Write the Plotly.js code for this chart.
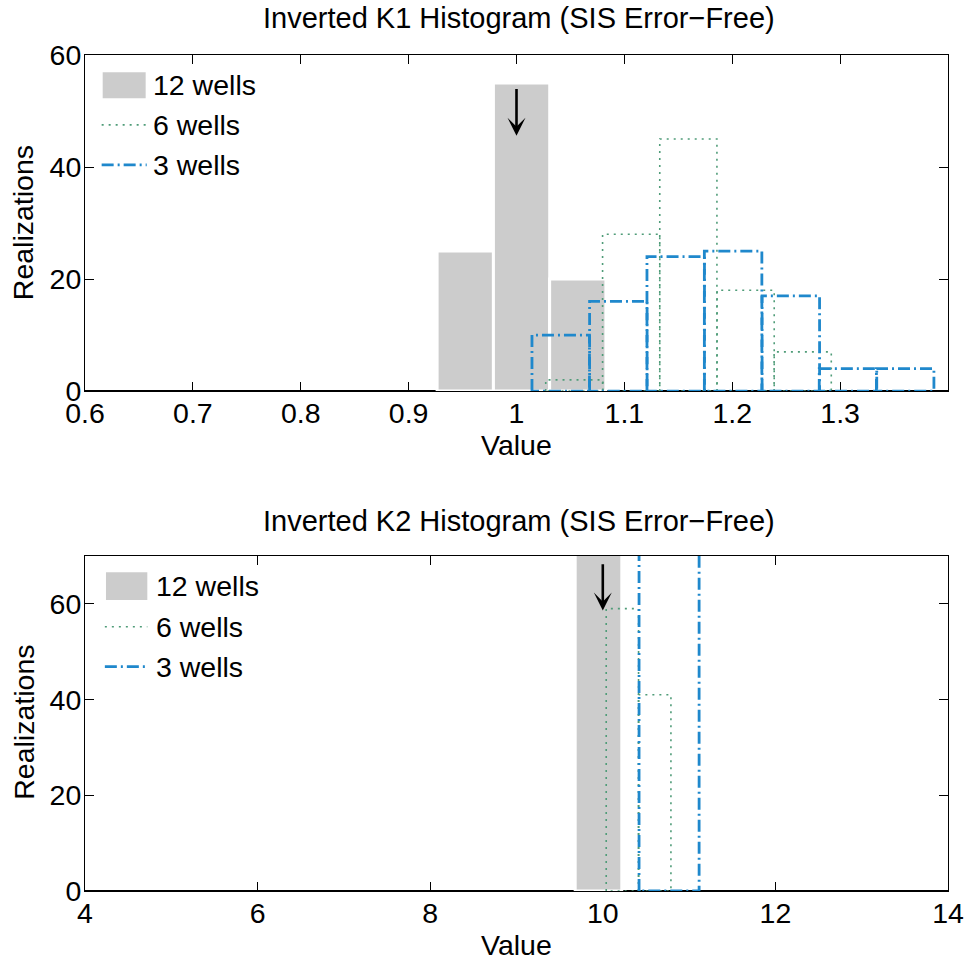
<!DOCTYPE html>
<html><head><meta charset="utf-8">
<script src="https://cdn.plot.ly/plotly-3.0.1.min.js"></script>
<style>html,body{margin:0;padding:0;background:#fff}</style>
</head><body>
<div id="chart" style="width:967px;height:960px"></div>
<script>
// ---- K1 histogram data ----
const k1Centers12 = [0.9525, 1.0047, 1.0568];
const k1Counts12  = [25, 55, 20];
const k1Width12   = 0.0522;
const k1Centers6  = [1.0536, 1.1063, 1.1593, 1.2124, 1.2653];
const k1Counts6   = [2, 28, 45, 18, 7];
const k1Width6    = 0.053;
const k1Centers3  = [1.0410, 1.0944, 1.1476, 1.2008, 1.2543, 1.3073, 1.3603];
const k1Counts3   = [10, 16, 24, 25, 17, 4, 4];
const k1Width3    = 0.0533;
const k1TrueValue = 1.0;

// ---- K2 histogram data ----
const k2Centers12 = [9.95];
const k2Counts12  = [100];
const k2Width12   = 0.54;
const k2Centers6  = [10.227, 10.602];
const k2Counts6   = [59, 41];
const k2Width6    = 0.375;
const k2Centers3  = [10.768];
const k2Counts3   = [100];
const k2Width3    = 0.696;
const k2TrueValue = 10;

// ---- labels ----
const seriesNames = ['12 wells', '6 wells', '3 wells'];
const plotTitles  = ['Inverted K1 Histogram (SIS Error\u2212Free)', 'Inverted K2 Histogram (SIS Error\u2212Free)'];
const xTitle = 'Value';
const yTitle = 'Realizations';
const k1TickVals = [0.6, 0.7, 0.8, 0.9, 1, 1.1, 1.2, 1.3];
const k1TickText = ['0.6', '0.7', '0.8', '0.9', '1', '1.1', '1.2', '1.3'];
const k2TickVals = [4, 6, 8, 10, 12, 14];
const k2TickText = ['4', '6', '8', '10', '12', '14'];
const yTickVals  = [0, 20, 40, 60];

// ---- styles ----
const FONT = 'Liberation Sans, Arial, Helvetica, sans-serif';
const FS = 28.5;
const GRAY = '#cccccc';
const GREEN = '#4f9c78';
const BLUE = '#1f88cc';
const DOT = '2px,5px';
const DASHDOT = '12px,4px,2px,4px';

function outline(centers, counts, width) {
  const xs = [], ys = [];
  centers.forEach((c, i) => {
    const l = c - width / 2, r = c + width / 2, h = counts[i];
    xs.push(l, l, r, r, l, null);
    ys.push(0, h, h, 0, 0, null);
  });
  return {x: xs, y: ys};
}

const o6a = outline(k1Centers6, k1Counts6, k1Width6);
const o3a = outline(k1Centers3, k1Counts3, k1Width3);
const o6b = outline(k2Centers6, k2Counts6, k2Width6);
const o3b = outline(k2Centers3, k2Counts3, k2Width3);

const traces = [
  {type: 'bar', x: k1Centers12, y: k1Counts12, width: k1Centers12.map(() => k1Width12),
   marker: {color: GRAY, line: {color: '#ffffff', width: 3}}, name: seriesNames[0],
   xaxis: 'x', yaxis: 'y', showlegend: false},
  {type: 'scatter', mode: 'lines', x: o6a.x, y: o6a.y, name: seriesNames[1],
   line: {color: GREEN, width: 1.6, dash: DOT}, xaxis: 'x', yaxis: 'y', showlegend: false},
  {type: 'scatter', mode: 'lines', x: o3a.x, y: o3a.y, name: seriesNames[2],
   line: {color: BLUE, width: 2.8, dash: DASHDOT}, xaxis: 'x', yaxis: 'y', showlegend: false},
  {type: 'bar', x: k2Centers12, y: k2Counts12, width: k2Centers12.map(() => k2Width12),
   marker: {color: GRAY, line: {color: '#ffffff', width: 3}}, name: seriesNames[0],
   xaxis: 'x2', yaxis: 'y2', showlegend: false},
  {type: 'scatter', mode: 'lines', x: o6b.x, y: o6b.y, name: seriesNames[1],
   line: {color: GREEN, width: 1.6, dash: DOT}, xaxis: 'x2', yaxis: 'y2', showlegend: false},
  {type: 'scatter', mode: 'lines', x: o3b.x, y: o3b.y, name: seriesNames[2],
   line: {color: BLUE, width: 2.8, dash: DASHDOT}, xaxis: 'x2', yaxis: 'y2', showlegend: false}
];

const axCommon = {
  showgrid: false, zeroline: false, showline: true, linecolor: '#000', linewidth: 1,
  ticks: 'inside', ticklen: 9, tickwidth: 1, tickcolor: '#000', mirror: 'ticks',
  tickfont: {family: FONT, size: FS, color: '#000'}, fixedrange: true
};

function legendItems(xr, yr, rows) {
  const shapes = [], anns = [];
  rows.forEach(r => {
    if (r.kind === 'rect') {
      shapes.push({type: 'rect', xref: xr, yref: yr, x0: r.x0, x1: r.x1, y0: r.y - r.h / 2, y1: r.y + r.h / 2,
        fillcolor: GRAY, line: {width: 0}});
    } else {
      shapes.push({type: 'line', xref: xr, yref: yr, x0: r.x0, x1: r.x1, y0: r.y, y1: r.y,
        line: {color: r.color, width: r.width, dash: r.dash}});
    }
    anns.push({xref: xr, yref: yr, x: r.tx, y: r.y, text: r.text, showarrow: false,
      xanchor: 'left', yanchor: 'middle', font: {family: FONT, size: FS, color: '#000'}});
  });
  return {shapes, anns};
}

const leg1 = legendItems('x domain', 'y domain', [
  {kind: 'rect', x0: 0.0205, x1: 0.0703, y: 0.910, h: 0.077, tx: 0.077, text: seriesNames[0]},
  {kind: 'line', x0: 0.0193, x1: 0.0715, y: 0.792, color: GREEN, width: 1.6, dash: DOT, tx: 0.077, text: seriesNames[1]},
  {kind: 'line', x0: 0.0193, x1: 0.0715, y: 0.673, color: BLUE, width: 2.8, dash: DASHDOT, tx: 0.077, text: seriesNames[2]}
]);
const leg2 = legendItems('x2 domain', 'y2 domain', [
  {kind: 'rect', x0: 0.0243, x1: 0.0722, y: 0.910, h: 0.083, tx: 0.080, text: seriesNames[0]},
  {kind: 'line', x0: 0.023, x1: 0.0722, y: 0.789, color: GREEN, width: 1.6, dash: DOT, tx: 0.080, text: seriesNames[1]},
  {kind: 'line', x0: 0.023, x1: 0.0722, y: 0.670, color: BLUE, width: 2.8, dash: DASHDOT, tx: 0.080, text: seriesNames[2]}
]);

const baseLines = [
  {type: 'line', xref: 'x domain', yref: 'y', x0: 0, x1: 1, y0: 0, y1: 0, line: {color: '#000', width: 2}, layer: 'below'},
  {type: 'line', xref: 'x2 domain', yref: 'y2', x0: 0, x1: 1, y0: 0, y1: 0, line: {color: '#000', width: 2}, layer: 'below'}
];

const textFont = {family: FONT, size: FS, color: '#000'};
const annotations = [
  {xref: 'paper', yref: 'paper', x: 0.503, y: 1.044, text: plotTitles[0], showarrow: false,
   xanchor: 'center', yanchor: 'middle', font: {family: FONT, size: 29, color: '#000'}},
  {xref: 'paper', yref: 'paper', x: 0.503, y: 0.4426, text: plotTitles[1], showarrow: false,
   xanchor: 'center', yanchor: 'middle', font: {family: FONT, size: 29, color: '#000'}},
  {xref: 'paper', yref: 'paper', x: 0.5, y: 0.5335, text: xTitle, showarrow: false,
   xanchor: 'center', yanchor: 'middle', font: textFont},
  {xref: 'paper', yref: 'paper', x: 0.5, y: -0.0646, text: xTitle, showarrow: false,
   xanchor: 'center', yanchor: 'middle', font: textFont},
  {xref: 'paper', yref: 'paper', x: -0.071, y: 0.7997, text: yTitle, showarrow: false, textangle: -90,
   xanchor: 'center', yanchor: 'middle', font: textFont},
  {xref: 'paper', yref: 'paper', x: -0.071, y: 0.2021, text: yTitle, showarrow: false, textangle: -90,
   xanchor: 'center', yanchor: 'middle', font: textFont},
  {xref: 'x', yref: 'y', axref: 'x', ayref: 'y', x: k1TrueValue, y: 45.6, ax: k1TrueValue, ay: 54.2,
   showarrow: true, arrowhead: 3, arrowsize: 1.15, arrowwidth: 2.6, arrowcolor: '#000', text: ''},
  {xref: 'x2', yref: 'y2', axref: 'x2', ayref: 'y2', x: k2TrueValue, y: 58.6, ax: k2TrueValue, ay: 68.6,
   showarrow: true, arrowhead: 3, arrowsize: 1.15, arrowwidth: 2.6, arrowcolor: '#000', text: ''}
].concat(leg1.anns, leg2.anns);

const layout = {
  width: 967, height: 960,
  margin: {l: 85, r: 19, t: 55, b: 69},
  paper_bgcolor: '#fff', plot_bgcolor: '#fff',
  showlegend: false, barmode: 'overlay', bargap: 0,
  font: {family: FONT, size: FS, color: '#000'},
  xaxis: Object.assign({}, axCommon, {domain: [0, 1], range: [0.6, 1.4], tickmode: 'array',
    tickvals: k1TickVals, ticktext: k1TickText, anchor: 'y', layer: 'below traces', ticklabelstandoff: -3}),
  yaxis: Object.assign({}, axCommon, {domain: [0.598, 1], range: [0, 60], tickmode: 'array',
    tickvals: yTickVals, anchor: 'x', ticklabelstandoff: -3}),
  xaxis2: Object.assign({}, axCommon, {domain: [0, 1], range: [4, 14], tickmode: 'array',
    tickvals: k2TickVals, ticktext: k2TickText, anchor: 'y2', layer: 'below traces', ticklabelstandoff: -3}),
  yaxis2: Object.assign({}, axCommon, {domain: [0, 0.4007], range: [0, 70], tickmode: 'array',
    tickvals: yTickVals, anchor: 'x2', ticklabelstandoff: -3}),
  shapes: baseLines.concat(leg1.shapes, leg2.shapes),
  annotations: annotations
};

Plotly.newPlot('chart', traces, layout, {staticPlot: true, displayModeBar: false});
</script>
</body></html>
